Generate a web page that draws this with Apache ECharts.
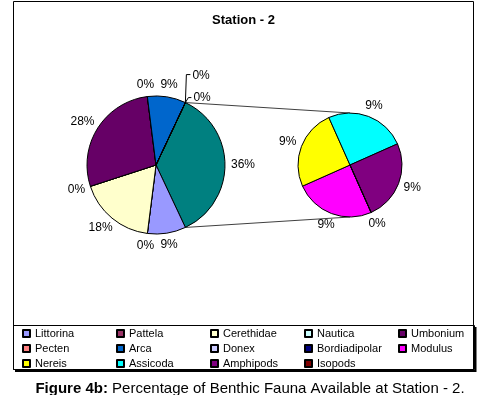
<!DOCTYPE html>
<html>
<head>
<meta charset="utf-8">
<script src="https://cdn.jsdelivr.net/npm/echarts@6/dist/echarts.min.js"></script>
<style>
html,body{margin:0;padding:0;background:#fff;}
#chart{width:487px;height:395px;}
</style>
</head>
<body>
<div id="chart"></div>
<script>
// ---- data ----
const mainNames = ['Littorina', 'Pattela', 'Cerethidae', 'Nautica', 'Umbonium', 'Pecten', 'Arca', 'Donex', 'Bordiadipolar'];
const mainValues = [9, 0, 18, 0, 28, 0, 9, 0, 0];
const secNames = ['Modulus', 'Nereis', 'Assicoda', 'Amphipods', 'Isopods'];
const secValues = [9, 9, 9, 9, 0];
const otherName = 'Other';
const titleText = 'Station - 2';
const captionBold = 'Figure 4b:';
const captionRest = ' Percentage of Benthic Fauna Available at Station - 2.';

// ---- styles ----
const mainColors = ['#9999FF', '#993366', '#FFFFCC', '#CCFFFF', '#660066', '#FF8080', '#0066CC', '#CCCCFF', '#000080'];
const secColors = ['#FF00FF', '#FFFF00', '#00FFFF', '#800080', '#800000'];
const otherColor = '#008080';
const FONT = 'Arial, "Liberation Sans", sans-serif';
const MC = [156, 165], MR = 69;
const SC = [350, 165], SR = 52, SSTART = -66;
const leaderUp = 'Donex', leaderMid = 'Bordiadipolar';

const sum = a => a.reduce((s, v) => s + v, 0);
const otherValue = sum(secValues);
const grandTotal = sum(mainValues) + otherValue;
const mainStart = otherValue / grandTotal * 180;

const chart = echarts.init(document.getElementById('chart'), null, {renderer: 'canvas'});

const baseItem = {borderColor: '#000', borderWidth: 1};
const mainData = [{name: otherName, value: otherValue, itemStyle: Object.assign({color: otherColor}, baseItem)}]
  .concat(mainNames.map((n, i) => {
    const d = {name: n, value: mainValues[i], itemStyle: Object.assign({color: mainColors[i]}, baseItem)};
    if (n === leaderUp || n === leaderMid) d.labelLine = {lineStyle: {opacity: 1, color: '#000', width: 1}};
    return d;
  }));
const secData = secNames.map((n, i) => ({name: n, value: secValues[i], itemStyle: Object.assign({color: secColors[i]}, baseItem)}));

const labelCfg = {
  show: true, position: 'outside', color: '#000', fontFamily: FONT, fontSize: 12,
  formatter: p => Math.round(p.value / grandTotal * 100) + '%'
};
const lineCfg = {show: true, length: 6, length2: 0, lineStyle: {opacity: 0}};

function makeLayout(seriesData) {
  return function (params) {
    const pts = params.labelLinePoints;
    if (!pts) return {};
    const item = seriesData[params.dataIndex];
    const p0 = pts[0], p1 = pts[1];
    if (item.name === leaderUp) {
      return {x: p0[0] + 7, y: p0[1] - 27, align: 'left', verticalAlign: 'middle',
        labelLinePoints: [p0, [p0[0] + 1, p0[1] - 28], [p0[0] + 5, p0[1] - 28]]};
    }
    if (item.name === leaderMid) {
      return {x: p0[0] + 8, y: p0[1] - 5, align: 'left', verticalAlign: 'middle',
        labelLinePoints: [p0, [p0[0] + 3, p0[1] - 5], [p0[0] + 6, p0[1] - 5]]};
    }
    const dx = p1[0] - p0[0], dy = p1[1] - p0[1];
    const len = Math.hypot(dx, dy) || 1;
    const w = params.labelRect.width, h = params.labelRect.height;
    return {x: p1[0] + dx / len * w / 2, y: p1[1] + dy / len * h / 2, align: 'center', verticalAlign: 'middle'};
  };
}

// connector lines between pies (derived from pie geometry)
const rad = mainStart * Math.PI / 180;
const topP = [MC[0] + MR * Math.cos(rad), MC[1] - MR * Math.sin(rad)];
const botP = [MC[0] + MR * Math.cos(rad), MC[1] + MR * Math.sin(rad)];

const option = {
  backgroundColor: '#fff',
  animation: false,
  title: {
    text: titleText, left: 'center', top: 14, padding: 0,
    textStyle: {fontFamily: FONT, fontSize: 13, fontWeight: 'bold', color: '#000'}
  },
  legend: {
    data: mainNames.concat(secNames),
    left: 22, top: 328, width: 475, padding: 0,
    orient: 'horizontal',
    itemWidth: 7, itemHeight: 7, itemGap: 4,
    icon: 'rect',
    selectedMode: false,
    textStyle: {fontFamily: FONT, fontSize: 11, color: '#000', width: 77, lineHeight: 9, overflow: 'none'}
  },
  graphic: [
    {type: 'rect', shape: {x: 13.5, y: 1.5, width: 460, height: 368}, style: {fill: 'none', stroke: '#000', lineWidth: 1}, z: 0},
    {type: 'rect', shape: {x: 13.5, y: 325.5, width: 461, height: 44}, style: {fill: 'none', stroke: '#000', lineWidth: 1}, z: 0},
    {type: 'polyline', shape: {points: [[15, 371], [475.5, 371], [475.5, 327]]}, style: {fill: 'none', stroke: '#000', lineWidth: 2}, z: 0},
    {type: 'line', shape: {x1: topP[0], y1: topP[1], x2: SC[0], y2: SC[1] - SR}, style: {stroke: '#404040', lineWidth: 1}, z: 0},
    {type: 'line', shape: {x1: botP[0], y1: botP[1], x2: SC[0], y2: SC[1] + SR}, style: {stroke: '#404040', lineWidth: 1}, z: 0},
    {type: 'text', x: 250, y: 389, style: {
      text: '{b|' + captionBold + '}{r|' + captionRest + '}',
      align: 'center', verticalAlign: 'middle',
      rich: {
        b: {fontFamily: FONT, fontSize: 15, fontWeight: 'bold', fill: '#000'},
        r: {fontFamily: FONT, fontSize: 15, fill: '#000'}
      }
    }, z: 0}
  ],
  series: [
    {
      type: 'pie', name: 'main', center: MC, radius: MR,
      startAngle: mainStart, clockwise: true, avoidLabelOverlap: false,
      data: mainData, label: labelCfg, labelLine: lineCfg,
      labelLayout: makeLayout(mainData),
      emphasis: {disabled: true}
    },
    {
      type: 'pie', name: 'secondary', center: SC, radius: SR,
      startAngle: SSTART, clockwise: true, avoidLabelOverlap: false,
      data: secData, label: labelCfg, labelLine: lineCfg,
      labelLayout: makeLayout(secData),
      emphasis: {disabled: true}
    }
  ]
};
chart.setOption(option);
</script>
</body>
</html>
